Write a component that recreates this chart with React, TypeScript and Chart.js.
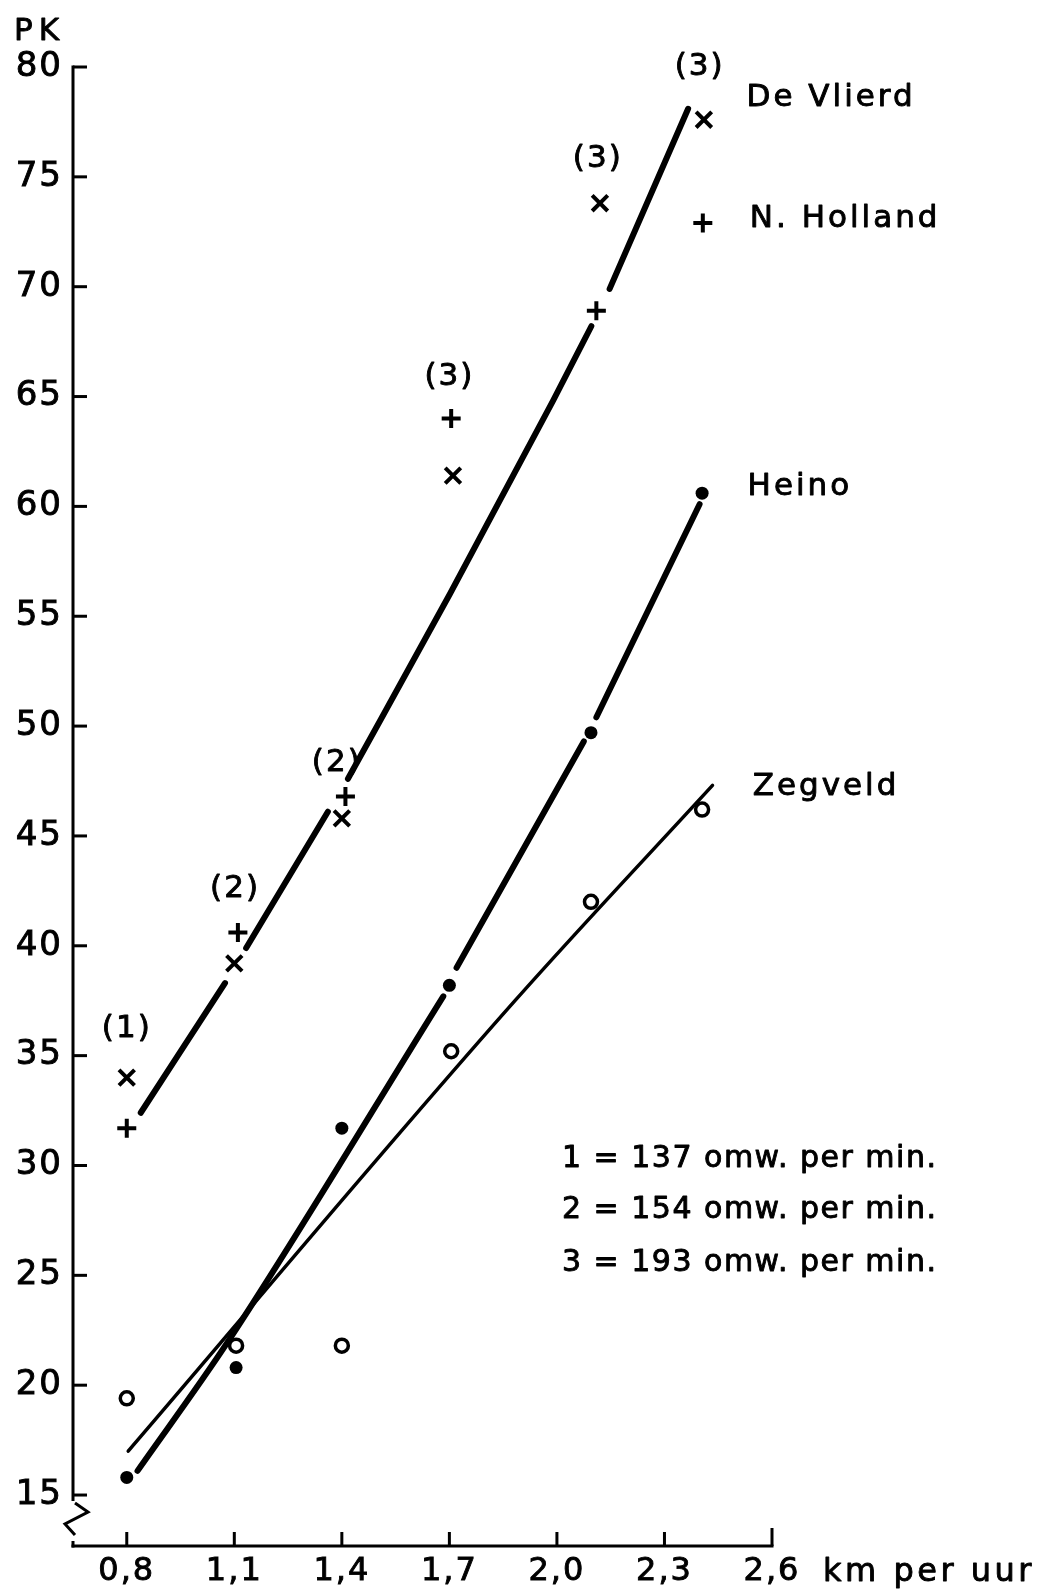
import React, { useEffect, useRef } from "react";
import { Chart, registerables } from "chart.js";

Chart.register(...registerables);

// ---------- axes ----------
const X_TICKS = [0.8, 1.1, 1.4, 1.7, 2.0, 2.3, 2.6];
const X_TICK_LABELS = ["0,8", "1,1", "1,4", "1,7", "2,0", "2,3", "2,6"];
const Y_TICKS = [15, 20, 25, 30, 35, 40, 45, 50, 55, 60, 65, 70, 75, 80];
const X_UNIT = "km per uur";
const Y_UNIT = "PK";

// ---------- measured points ----------
const vlierdX = [0.8, 1.1, 1.4, 1.71, 2.12, 2.41];
const vlierdY = [34.0, 39.2, 45.8, 61.4, 73.8, 77.6];

const hollandX = [0.8, 1.11, 1.41, 1.705, 2.11];
const hollandY = [31.7, 40.6, 46.8, 64.0, 68.9];

const heinoX = [0.8, 1.105, 1.4, 1.7, 2.095, 2.405];
const heinoY = [15.8, 20.8, 31.7, 38.2, 49.7, 60.6];

const zegveldX = [0.8, 1.105, 1.4, 1.705, 2.095, 2.405];
const zegveldY = [19.4, 21.8, 21.8, 35.2, 42.0, 46.2];

// legend key (+ next to "N. Holland")
const hollandKeyX = [2.407];
const hollandKeyY = [72.9];

// ---------- fitted curves (null = pen lifted) ----------
const upperLineX = [0.839, 1.074, 1.1, 1.133, 1.361, 1.39, 1.417, 1.701, 1.989, 2.096, 2.12, 2.147, 2.366];
const upperLineY = [32.4, 38.3, null, 39.9, 46.1, null, 47.6, 56.0, 64.8, 68.2, null, 69.9, 78.1];

const heinoLineX = [0.83, 1.079, 1.683, 1.7, 1.72, 2.075, 2.09, 2.11, 2.398];
const heinoLineY = [16.1, 21.9, 37.7, null, 39.0, 49.3, null, 50.4, 60.1];

const zegveldLineX = [0.804, 1.883, 2.434];
const zegveldLineY = [17.0, 37.5, 47.3];

// ---------- annotations ----------
const RPM_TEXT = ["(1)", "(2)", "(2)", "(3)", "(3)", "(3)"];
const RPM_X = [0.8, 1.102, 1.386, 1.7, 2.114, 2.398];
const RPM_Y = [36.2, 42.6, 48.3, 65.9, 75.8, 80.0];

const NAME_TEXT = ["De Vlierd", "N. Holland", "Heino", "Zegveld"];
const NAME_X = [2.529, 2.538, 2.532, 2.546];
const NAME_Y = [78.6, 73.1, 60.9, 47.25];

const NOTE_LINES = ["1 = 137 omw. per min.", "2 = 154 omw. per min.", "3 = 193 omw. per min."];
const NOTE_X = [2.014, 2.014, 2.014];
const NOTE_Y = [30.3, 27.95, 25.55];

const FONT = '"DejaVu Sans", "Liberation Sans", sans-serif';

const toXY = (xs: number[], ys: (number | null)[]) => xs.map((x, i) => ({ x, y: ys[i] }));

function drawText(ctx: any, t: string, x: number, y: number) {
  ctx.strokeText(t, x, y);
  ctx.fillText(t, x, y);
}

const decorPlugin = {
  id: "decor",
  beforeDraw(chart: any) {
    const ctx = chart.ctx;
    ctx.save();
    ctx.fillStyle = "#fff";
    ctx.fillRect(0, 0, chart.width, chart.height);
    ctx.restore();
    ctx.letterSpacing = "2px";
  },
  afterDraw(chart: any) {
    const ctx = chart.ctx;
    const xs = chart.scales.x;
    const ys = chart.scales.y;
    const { left, bottom } = chart.chartArea;
    ctx.save();
    ctx.strokeStyle = "#000";
    ctx.fillStyle = "#000";
    ctx.lineWidth = 3;
    ctx.lineCap = "butt";

    // y axis line
    const yTop = ys.getPixelForValue(Y_TICKS[Y_TICKS.length - 1]) - 1.5;
    const y15 = ys.getPixelForValue(Y_TICKS[0]);
    ctx.beginPath();
    ctx.moveTo(left, yTop);
    ctx.lineTo(left, y15 + 6);
    ctx.stroke();
    // axis break
    ctx.beginPath();
    ctx.moveTo(left + 2, bottom - 43);
    ctx.lineTo(left + 15, bottom - 34);
    ctx.lineTo(left - 8, bottom - 22);
    ctx.lineTo(left + 2, bottom - 11);
    ctx.stroke();
    ctx.beginPath();
    ctx.moveTo(left, bottom - 5);
    ctx.lineTo(left, bottom + 1.5);
    ctx.stroke();
    // x axis line
    const xEnd = xs.getPixelForValue(X_TICKS[X_TICKS.length - 1]);
    ctx.beginPath();
    ctx.moveTo(left - 1.5, bottom);
    ctx.lineTo(xEnd + 1.5, bottom);
    ctx.stroke();
    // inward ticks
    Y_TICKS.forEach((v) => {
      const py = ys.getPixelForValue(v);
      ctx.beginPath();
      ctx.moveTo(left, py);
      ctx.lineTo(left + 14, py);
      ctx.stroke();
    });
    X_TICKS.forEach((v, i) => {
      const px = xs.getPixelForValue(v);
      ctx.beginPath();
      ctx.moveTo(px, bottom);
      ctx.lineTo(px, bottom - (i === X_TICKS.length - 1 ? 18 : 14));
      ctx.stroke();
    });

    ctx.lineWidth = 0.9;
    ctx.lineJoin = "round";

    // unit labels
    ctx.letterSpacing = "6px";
    ctx.font = `31px ${FONT}`;
    ctx.textAlign = "left";
    ctx.textBaseline = "middle";
    drawText(ctx, Y_UNIT, left - 59, ys.getPixelForValue(Y_TICKS[Y_TICKS.length - 1]) - 35);

    ctx.letterSpacing = "3.5px";
    ctx.font = `32px ${FONT}`;
    ctx.textBaseline = "alphabetic";
    drawText(ctx, X_UNIT, xEnd + 51, bottom + 35);

    // rpm labels
    ctx.letterSpacing = "2px";
    ctx.font = `31px ${FONT}`;
    ctx.textAlign = "center";
    ctx.textBaseline = "middle";
    RPM_TEXT.forEach((t, i) => {
      drawText(ctx, t, xs.getPixelForValue(RPM_X[i]), ys.getPixelForValue(RPM_Y[i]));
    });

    // series names
    ctx.letterSpacing = "3px";
    ctx.font = `31px ${FONT}`;
    ctx.textAlign = "left";
    NAME_TEXT.forEach((t, i) => {
      drawText(ctx, t, xs.getPixelForValue(NAME_X[i]), ys.getPixelForValue(NAME_Y[i]));
    });

    // note
    ctx.letterSpacing = "1.5px";
    ctx.font = `30px ${FONT}`;
    NOTE_LINES.forEach((t, i) => {
      drawText(ctx, t, xs.getPixelForValue(NOTE_X[i]), ys.getPixelForValue(NOTE_Y[i]));
    });
    ctx.restore();
  },
};

export default function App() {
  const ref = useRef<HTMLCanvasElement>(null);
  useEffect(() => {
    document.body.style.margin = "0";
    const canvas = ref.current!;
    const lineBase = {
      type: "line" as const,
      showLine: true,
      pointRadius: 0,
      pointHoverRadius: 0,
      spanGaps: false,
      borderColor: "#000",
      borderCapStyle: "round" as const,
      cubicInterpolationMode: "monotone" as const,
      fill: false,
      clip: false as any,
    };
    const chart = new Chart(canvas, {
      type: "scatter",
      data: {
        datasets: [
          {
            label: "De Vlierd",
            data: toXY(vlierdX, vlierdY),
            pointStyle: "crossRot",
            pointRadius: 11,
            borderColor: "#000",
            borderWidth: 4,
            clip: false as any,
          },
          {
            label: "N. Holland",
            data: toXY(hollandX, hollandY),
            pointStyle: "cross",
            pointRadius: 9.5,
            borderColor: "#000",
            borderWidth: 4,
            clip: false as any,
          },
          {
            label: "N. Holland key",
            data: toXY(hollandKeyX, hollandKeyY),
            pointStyle: "cross",
            pointRadius: 9.5,
            borderColor: "#000",
            borderWidth: 4,
            clip: false as any,
          },
          {
            label: "Heino",
            data: toXY(heinoX, heinoY),
            pointStyle: "circle",
            pointRadius: 6.5,
            backgroundColor: "#000",
            borderColor: "#000",
            borderWidth: 0,
            clip: false as any,
          },
          {
            label: "Zegveld",
            data: toXY(zegveldX, zegveldY),
            pointStyle: "circle",
            pointRadius: 6.5,
            backgroundColor: "#fff",
            borderColor: "#000",
            borderWidth: 3.5,
            clip: false as any,
          },
          { ...lineBase, label: "fit De Vlierd / N. Holland", data: toXY(upperLineX, upperLineY), borderWidth: 6 } as any,
          { ...lineBase, label: "fit Heino", data: toXY(heinoLineX, heinoLineY), borderWidth: 6 } as any,
          { ...lineBase, label: "fit Zegveld", data: toXY(zegveldLineX, zegveldLineY), borderWidth: 3.5 } as any,
        ],
      },
      options: {
        responsive: false,
        devicePixelRatio: 1,
        animation: false,
        events: [],
        layout: { padding: { top: 67, right: 274, bottom: 0, left: 0 } },
        plugins: {
          legend: { display: false },
          tooltip: { enabled: false },
        },
        scales: {
          x: {
            type: "linear",
            min: 0.65,
            max: 2.6,
            grid: { display: false, drawTicks: false },
            border: { display: false },
            afterFit: (s: any) => {
              s.height = 45;
            },
            afterBuildTicks: (s: any) => {
              s.ticks = X_TICKS.map((value) => ({ value }));
            },
            ticks: {
              padding: 6,
              color: "#000",
              textStrokeColor: "#000",
              textStrokeWidth: 0.9,
              font: { family: FONT, size: 32 },
              maxRotation: 0,
              autoSkip: false,
              callback: (v: any) => {
                const i = X_TICKS.findIndex((t) => Math.abs(t - Number(v)) < 1e-6);
                return i >= 0 ? X_TICK_LABELS[i] : "";
              },
            },
          },
          y: {
            type: "linear",
            min: 12.68,
            max: 80,
            grid: { display: false, drawTicks: false },
            border: { display: false },
            afterFit: (s: any) => {
              s.width = 73;
            },
            afterBuildTicks: (s: any) => {
              s.ticks = Y_TICKS.map((value) => ({ value }));
            },
            ticks: {
              padding: 10,
              color: "#000",
              textStrokeColor: "#000",
              textStrokeWidth: 0.9,
              font: { family: FONT, size: 34 },
              autoSkip: false,
              callback: (v: any) => String(v),
            },
          },
        },
      },
      plugins: [decorPlugin],
    });
    return () => chart.destroy();
  }, []);
  return <canvas ref={ref} width={1046} height={1591} style={{ display: "block" }} />;
}
